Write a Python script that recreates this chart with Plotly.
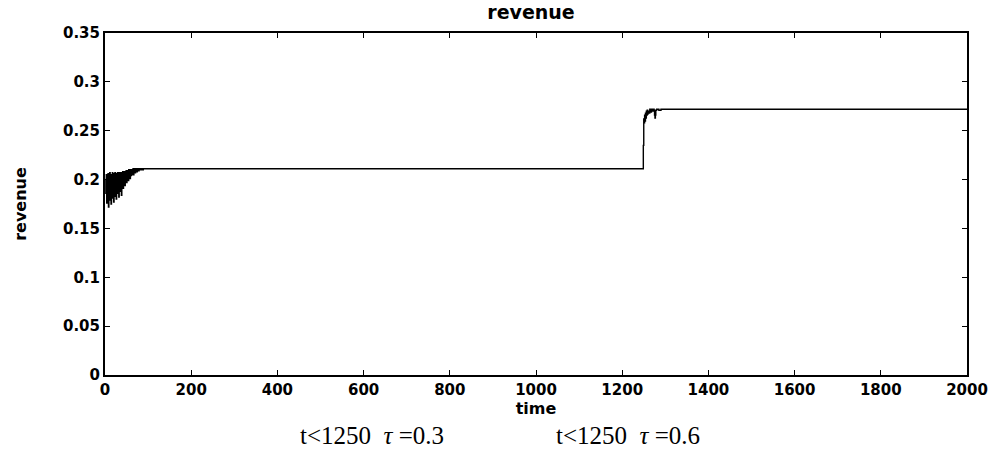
import plotly.graph_objects as go

# Early transient: revenue per time step while the price settles
early_time = list(range(1, 101))
early_revenue = [
    0.200, 0.186, 0.205, 0.176, 0.203, 0.192, 0.206, 0.172, 0.201, 0.184,
    0.207, 0.179, 0.204, 0.175, 0.205, 0.188, 0.207, 0.181, 0.203, 0.177,
    0.206, 0.190, 0.207, 0.183, 0.204, 0.180, 0.206, 0.193, 0.207, 0.186,
    0.205, 0.182, 0.207, 0.195, 0.206, 0.188, 0.207, 0.184, 0.206, 0.196,
    0.208, 0.191, 0.207, 0.198, 0.208, 0.194, 0.208, 0.200, 0.209, 0.197,
    0.209, 0.202, 0.209, 0.199, 0.210, 0.203, 0.209, 0.201, 0.210, 0.204,
    0.210, 0.205, 0.210, 0.206, 0.211, 0.205, 0.210, 0.207, 0.211, 0.207,
    0.211, 0.208, 0.211, 0.208, 0.211, 0.209, 0.211, 0.209, 0.211, 0.210,
    0.211, 0.210, 0.211, 0.210, 0.211, 0.211, 0.211, 0.210, 0.211, 0.211,
    0.211, 0.211, 0.211, 0.211, 0.211, 0.211, 0.211, 0.211, 0.211, 0.211,
]

# Flat regime, the switch at t=1250 and the second regime
late_time = [100, 1248, 1249, 1250, 1251, 1252, 1253, 1254, 1255, 1256,
             1257, 1258, 1259, 1260, 1262, 1264, 1266, 1268, 1270, 1272,
             1274, 1275, 1276, 1277, 1278, 1280, 1285, 1290, 1300, 2000]
late_revenue = [0.211, 0.211, 0.235, 0.262, 0.258, 0.266, 0.260, 0.268, 0.263, 0.270,
                0.266, 0.271, 0.267, 0.270, 0.268, 0.272, 0.269, 0.272, 0.270, 0.272,
                0.271, 0.266, 0.263, 0.266, 0.271, 0.272, 0.271, 0.272, 0.272, 0.272]

time = early_time + late_time
revenue = early_revenue + late_revenue

x_ticks = [0, 200, 400, 600, 800, 1000, 1200, 1400, 1600, 1800, 2000]
y_ticks = [0, 0.05, 0.1, 0.15, 0.2, 0.25, 0.3, 0.35]
y_tick_text = ["0", "0.05", "0.1", "0.15", "0.2", "0.25", "0.3", "0.35"]

fig = go.Figure()
fig.add_trace(go.Scatter(
    x=time, y=revenue, mode="lines",
    line=dict(color="black", width=1.4, shape="hv"),
    showlegend=False,
))

sans = "DejaVu Sans, Arial, sans-serif"
tick_font = dict(family=sans, size=15, color="black", weight="bold")
label_font = dict(family=sans, size=16, color="black", weight="bold")
caption_font = dict(family="Liberation Serif, Times New Roman, serif",
                    size=25, color="black")

fig.update_layout(
    width=1000, height=457,
    margin=dict(l=105, r=33, t=33, b=82),
    paper_bgcolor="white", plot_bgcolor="white",
    title=dict(text="revenue", x=0.531, xanchor="center", y=0.972,
               yanchor="middle",
               font=dict(family=sans, size=19, color="black", weight="bold")),
    xaxis=dict(range=[0, 2000], tickvals=x_ticks, ticks="inside", ticklen=5,
               tickcolor="black", showline=True, linecolor="black", linewidth=2,
               mirror="ticks", showgrid=False, zeroline=False,
               tickfont=tick_font,
               title=dict(text="time", standoff=0, font=label_font)),
    yaxis=dict(range=[0, 0.35], tickvals=y_ticks, ticktext=y_tick_text,
               ticks="inside", ticklen=5, tickcolor="black",
               showline=True, linecolor="black", linewidth=2,
               mirror="ticks", showgrid=False, zeroline=False,
               tickfont=tick_font,
               title=dict(text="revenue", standoff=32, font=label_font)),
    annotations=[
        dict(text="t&lt;1250&nbsp;&nbsp;<i>τ</i> =0.3", xref="paper", yref="paper",
             x=(298 - 105) / 862, y=(457 - 82 - 435) / 342, xanchor="left",
             yanchor="middle", showarrow=False, font=caption_font),
        dict(text="t&lt;1250&nbsp;&nbsp;<i>τ</i> =0.6", xref="paper", yref="paper",
             x=(554 - 105) / 862, y=(457 - 82 - 435) / 342, xanchor="left",
             yanchor="middle", showarrow=False, font=caption_font),
    ],
)

fig.write_html("out.html")
